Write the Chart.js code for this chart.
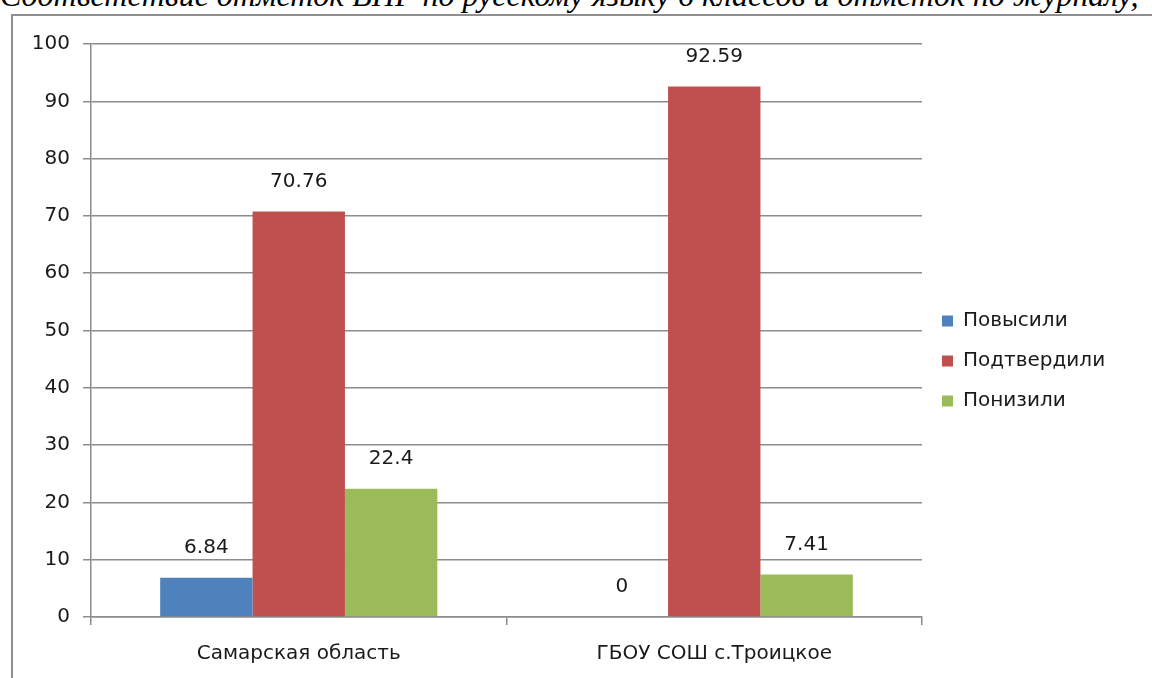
<!DOCTYPE html>
<html>
<head>
<meta charset="utf-8">
<script src="https://cdn.jsdelivr.net/npm/chart.js@4"></script>
<style>
  html, body { margin: 0; padding: 0; background: #fff; }
  body { width: 1152px; height: 678px; position: relative; overflow: hidden; }
  #caption {
    position: absolute; left: 0; top: -21px; white-space: nowrap;
    font: italic 32px/32px "Liberation Serif", serif; color: #000;
  }
  #frame {
    position: absolute; left: 11px; top: 14px; width: 1160px; height: 700px;
    border-left: 2px solid #8f8f8f; border-top: 2px solid #8f8f8f;
  }
  #chart { position: absolute; left: 12px; top: 15px; }
</style>
</head>
<body>
<div id="caption">Соответствие отметок ВПР по русскому языку 6 классов и отметок по журналу,</div>
<div id="frame"></div>
<canvas id="chart" width="1140" height="663"></canvas>
<script>
const categories = ['Самарская область', 'ГБОУ СОШ с.Троицкое'];
const seriesNames = ['Повысили', 'Подтвердили', 'Понизили'];
const raisedValues = [6.84, 0];
const confirmedValues = [70.76, 92.59];
const loweredValues = [22.4, 7.41];
const yTicks = [0, 10, 20, 30, 40, 50, 60, 70, 80, 90, 100];

const FONT = 'DejaVu Sans';
const TEXT = '#1a1a1a';
const GRID = '#8c8c8c';

// legend width depends on the longest label, so measure it to keep the plot edge in place
const probe = document.createElement('canvas').getContext('2d');
probe.font = '20px "' + FONT + '"';
const longest = Math.max(...seriesNames.map(s => probe.measureText(s).width));
const legendWidth = 20 + 11 + 10 + longest + 10;
const padRight = Math.max(0, 1140 - 910 - legendWidth);

const valueLabels = {
  id: 'valueLabels',
  afterDatasetsDraw(chart) {
    const ctx = chart.ctx;
    ctx.save();
    ctx.font = '20px "' + FONT + '"';
    ctx.fillStyle = TEXT;
    ctx.textAlign = 'center';
    ctx.textBaseline = 'middle';
    chart.data.datasets.forEach((ds, i) => {
      chart.getDatasetMeta(i).data.forEach((bar, j) => {
        ctx.fillText(String(ds.data[j]), bar.x, bar.y - 30);
      });
    });
    ctx.restore();
  }
};

new Chart(document.getElementById('chart'), {
  type: 'bar',
  data: {
    labels: categories,
    datasets: [
      { label: seriesNames[0], data: raisedValues, backgroundColor: '#4f81bd' },
      { label: seriesNames[1], data: confirmedValues, backgroundColor: '#c0504d' },
      { label: seriesNames[2], data: loweredValues, backgroundColor: '#9bbb59' }
    ]
  },
  options: {
    responsive: false,
    animation: false,
    devicePixelRatio: 1,
    layout: { padding: { top: 29, right: padRight, bottom: 0, left: 0 } },
    datasets: { bar: { categoryPercentage: 0.667, barPercentage: 1 } },
    plugins: {
      tooltip: { enabled: false },
      legend: {
        position: 'right',
        labels: {
          boxWidth: 11, boxHeight: 11, padding: 20,
          color: TEXT, font: { family: FONT, size: 20 }
        }
      }
    },
    scales: {
      x: {
        grid: { display: true, drawOnChartArea: false, tickLength: 8, color: GRID, lineWidth: 1.5 },
        border: { color: GRID, width: 1.5 },
        ticks: { color: TEXT, font: { family: FONT, size: 20 }, padding: 17, maxRotation: 0 },
        afterFit(scale) { scale.height = 61; }
      },
      y: {
        min: 0, max: 100,
        afterBuildTicks(scale) { scale.ticks = yTicks.map(v => ({ value: v })); },
        grid: { color: GRID, lineWidth: 1.5, tickLength: 8 },
        border: { color: GRID, width: 1.5 },
        ticks: { color: TEXT, font: { family: FONT, size: 20 }, padding: 13 },
        afterFit(scale) { scale.width = 79; }
      }
    }
  },
  plugins: [valueLabels]
});
</script>
</body>
</html>
